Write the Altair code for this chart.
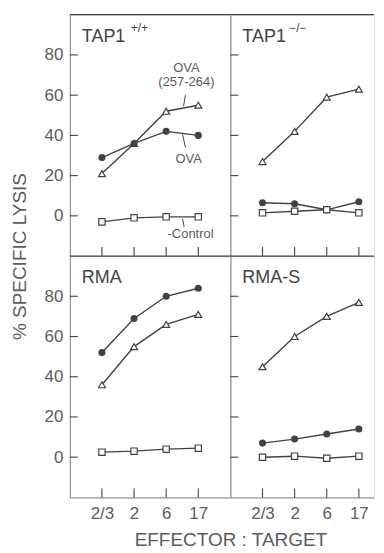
import json
import altair as alt
import pandas as pd

# ---------------- data ----------------
ratios = ["2/3", "2", "6", "17"]
y_ticks = [0, 20, 40, 60, 80]
series_names = ["peptide", "ova", "control"]

tap_wt_peptide = [21, 36, 52, 55]
tap_wt_ova = [29, 36, 42, 40]
tap_wt_control = [-3, -1, -0.5, -0.5]

tap_ko_peptide = [27, 42, 59, 63]
tap_ko_ova = [6.5, 6, 3, 7]
tap_ko_control = [1.5, 2.3, 3, 1.5]

rma_peptide = [36, 55, 66, 71]
rma_ova = [52, 69, 80, 84]
rma_control = [2.5, 3, 4, 4.5]

rmas_peptide = [45, 60, 70, 77]
rmas_ova = [7, 9, 11.5, 14]
rmas_control = [0, 0.5, -0.5, 0.5]

# annotation labels (TAP1+/+ panel), in data coordinates
ann_text = ["OVA", "(257-264)", "OVA", "-Control"]
ann_x = [2.63, 2.63, 2.70, 2.76]
ann_y = [73.5, 66.5, 28.5, -9.0]
lead_x = [2.60, 2.51, 2.51]
lead_y = [60, 40.5, -1.5]
lead_x2 = [2.54, 2.60, 2.56]
lead_y2 = [54.5, 34, -5.5]

# ---------------- style ----------------
INK = "#424242"
TEXT = "#5c5c5c"
FONT = "Liberation Sans"
W_LEFT = 161
W_RIGHT = 144
H = 242
STEP = W_LEFT / 5.0


def panel_df(peptide, ova, control):
    rows = []
    for name, vals in zip(series_names, [peptide, ova, control]):
        for i, v in enumerate(vals):
            rows.append({"series": name, "pos": i, "lysis": v})
    return pd.DataFrame(rows)


def make_panel(df, width, main, sup, sup_x, show_x, show_y, y_title=False, x_title=False, annotate=False):
    x_dom = [-1, -1 + width / STEP]
    x_axis_kw = dict(values=list(range(len(ratios))),
                     labelExpr=json.dumps(ratios) + "[datum.value]",
                     labels=show_x, ticks=False, grid=False, domain=True,
                     labelPadding=8, labelFontSize=17, labelColor=TEXT, labelFont=FONT,
                     labelFontWeight="normal")
    if x_title:
        x_axis_kw.update(title="EFFECTOR : TARGET", titleX=W_LEFT, titleY=42,
                         titleAlign="center", titleBaseline="middle",
                         titleFontSize=19, titleColor=TEXT, titleFont=FONT,
                         titleFontWeight="normal")
    else:
        x_axis_kw.update(title=None)
    y_axis_kw = dict(values=y_ticks, labels=show_y, ticks=False, grid=False, domain=True,
                     labelPadding=7, labelFontSize=17, labelColor=TEXT, labelFont=FONT)
    if y_title:
        y_axis_kw.update(title="% SPECIFIC LYSIS", titleX=-50, titleY=H, titleAngle=270,
                         titleAlign="center", titleBaseline="middle",
                         titleFontSize=19, titleColor=TEXT, titleFont=FONT,
                         titleFontWeight="normal")
    else:
        y_axis_kw.update(title=None)

    x_enc = alt.X("pos:Q", scale=alt.Scale(domain=x_dom, nice=False, zero=False),
                  axis=alt.Axis(**x_axis_kw))
    y_enc = alt.Y("lysis:Q", scale=alt.Scale(domain=[-20, 100], nice=False, zero=False),
                  axis=alt.Axis(**y_axis_kw))

    one = pd.DataFrame({"k": [0]})
    layers = []
    layers.append(alt.Chart(df).mark_line(color=INK, strokeWidth=1.4).encode(
        x=x_enc, y=y_enc, detail="series:N"))
    layers.append(alt.Chart(one).mark_rule(color=INK, strokeWidth=1.2).encode(
        x=alt.value(0), x2=alt.value(width), y=alt.value(0)))
    layers.append(alt.Chart(pd.DataFrame({"lysis": y_ticks})).mark_rule(
        color=INK, strokeWidth=1.1).encode(y=y_enc, x=alt.value(0), x2=alt.value(8)))
    layers.append(alt.Chart(pd.DataFrame({"pos": list(range(len(ratios)))})).mark_rule(
        color=INK, strokeWidth=1.1).encode(x=x_enc, y=alt.value(H), y2=alt.value(H - 9)))

    layers.append(alt.Chart(df[df.series == "peptide"]).mark_point(
        shape="triangle-up", size=48, filled=True, fill="white", stroke=INK,
        strokeWidth=1.2, opacity=1).encode(x=x_enc, y=y_enc))
    layers.append(alt.Chart(df[df.series == "ova"]).mark_point(
        shape="circle", size=50, filled=True, color=INK, opacity=1).encode(x=x_enc, y=y_enc))
    layers.append(alt.Chart(df[df.series == "control"]).mark_point(
        shape="square", size=40, filled=True, fill="white", stroke=INK,
        strokeWidth=1.2, opacity=1).encode(x=x_enc, y=y_enc))

    layers.append(alt.Chart(one).mark_text(
        align="left", baseline="alphabetic", fontSize=18, color=INK, font=FONT).encode(
        x=alt.value(12), y=alt.value(27), text=alt.value(main)))
    if sup:
        layers.append(alt.Chart(one).mark_text(
            align="left", baseline="alphabetic", fontSize=12, color=INK, font=FONT).encode(
            x=alt.value(sup_x), y=alt.value(17), text=alt.value(sup)))

    if annotate:
        ann = pd.DataFrame({"pos": ann_x, "lysis": ann_y, "t": ann_text})
        layers.append(alt.Chart(ann).mark_text(
            align="center", baseline="middle", fontSize=13, color=TEXT, font=FONT).encode(
            x=x_enc, y=y_enc, text="t:N"))
        lead = pd.DataFrame({"pos": lead_x, "lysis": lead_y, "x2": lead_x2, "y2": lead_y2})
        layers.append(alt.Chart(lead).mark_rule(color=INK, strokeWidth=1).encode(
            x=x_enc, y=y_enc, x2="x2:Q", y2="y2:Q"))

    return alt.layer(*layers).properties(width=width, height=H)


tl = make_panel(panel_df(tap_wt_peptide, tap_wt_ova, tap_wt_control), W_LEFT,
                "TAP1", "+/+", 61, show_x=False, show_y=True, y_title=True, annotate=True)
tr = make_panel(panel_df(tap_ko_peptide, tap_ko_ova, tap_ko_control), W_RIGHT,
                "TAP1", "\u2212/\u2212", 59, show_x=False, show_y=False)
bl = make_panel(panel_df(rma_peptide, rma_ova, rma_control), W_LEFT,
                "RMA", "", 0, show_x=True, show_y=True, x_title=True)
br = make_panel(panel_df(rmas_peptide, rmas_ova, rmas_control), W_RIGHT,
                "RMA-S", "", 0, show_x=True, show_y=False)

chart = alt.concat(
    tl, tr, bl, br, columns=2, spacing=0, bounds="flush",
).properties(
    padding={"left": 2, "top": 4, "right": 0, "bottom": 0},
    background="white",
).configure_view(stroke=None).configure_axis(
    domainColor=INK, domainWidth=1.2
).configure(font=FONT)

chart.save("out.html", embed_options={"renderer": "svg", "actions": False})
